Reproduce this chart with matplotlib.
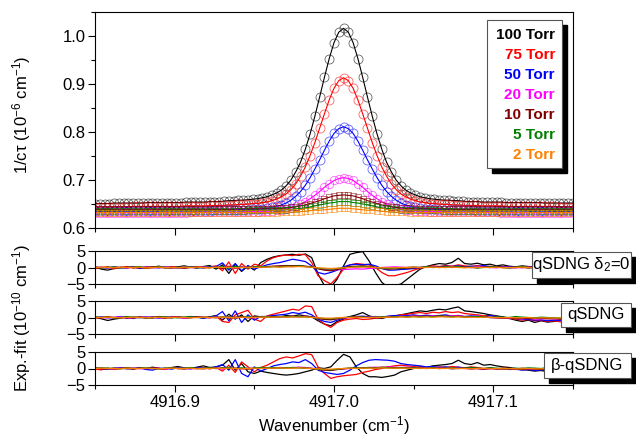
import matplotlib.pyplot as plt
from matplotlib.patches import Rectangle
from matplotlib.ticker import MultipleLocator, FormatStrFormatter

plt.rcParams["font.family"] = ["Liberation Sans", "DejaVu Sans"]
plt.rcParams["mathtext.fontset"] = "custom"
plt.rcParams["mathtext.rm"] = "Liberation Sans"
plt.rcParams["mathtext.it"] = "Liberation Sans:italic"

# wavenumber grid of the spectra (cm-1)
wavenumber = [
    4916.850, 4916.853, 4916.856, 4916.859, 4916.862, 4916.865, 4916.868, 4916.871, 4916.874, 4916.877,
    4916.880, 4916.883, 4916.886, 4916.889, 4916.892, 4916.895, 4916.898, 4916.901, 4916.904, 4916.907,
    4916.910, 4916.913, 4916.916, 4916.919, 4916.922, 4916.925, 4916.928, 4916.931, 4916.934, 4916.937,
    4916.940, 4916.943, 4916.946, 4916.949, 4916.952, 4916.955, 4916.958, 4916.961, 4916.964, 4916.967,
    4916.970, 4916.973, 4916.976, 4916.979, 4916.982, 4916.985, 4916.988, 4916.991, 4916.994, 4916.997,
    4917.000, 4917.003, 4917.006, 4917.009, 4917.012, 4917.015, 4917.018, 4917.021, 4917.024, 4917.027,
    4917.030, 4917.033, 4917.036, 4917.039, 4917.042, 4917.045, 4917.048, 4917.051, 4917.054, 4917.057,
    4917.060, 4917.063, 4917.066, 4917.069, 4917.072, 4917.075, 4917.078, 4917.081, 4917.084, 4917.087,
    4917.090, 4917.093, 4917.096, 4917.099, 4917.102, 4917.105, 4917.108, 4917.111, 4917.114, 4917.117,
    4917.120, 4917.123, 4917.126, 4917.129, 4917.132, 4917.135, 4917.138, 4917.141, 4917.144, 4917.147,
    4917.150,
]

# wavenumber grid of the residuals (cm-1)
wavenumber_res = [
    4916.850, 4916.854, 4916.858, 4916.862, 4916.866, 4916.870, 4916.874, 4916.878, 4916.882, 4916.886,
    4916.890, 4916.894, 4916.898, 4916.902, 4916.906, 4916.910, 4916.914, 4916.918, 4916.922, 4916.926,
    4916.930, 4916.934, 4916.938, 4916.942, 4916.946, 4916.950, 4916.954, 4916.958, 4916.962, 4916.966,
    4916.970, 4916.974, 4916.978, 4916.982, 4916.986, 4916.990, 4916.994, 4916.998, 4917.002, 4917.006,
    4917.010, 4917.014, 4917.018, 4917.022, 4917.026, 4917.030, 4917.034, 4917.038, 4917.042, 4917.046,
    4917.050, 4917.054, 4917.058, 4917.062, 4917.066, 4917.070, 4917.074, 4917.078, 4917.082, 4917.086,
    4917.090, 4917.094, 4917.098, 4917.102, 4917.106, 4917.110, 4917.114, 4917.118, 4917.122, 4917.126,
    4917.130, 4917.134, 4917.138, 4917.142, 4917.146, 4917.150,
]

labels = ["100 Torr", "75 Torr", "50 Torr", "20 Torr", "10 Torr", "5 Torr", "2 Torr"]
colors = ["#000000", "#ff0000", "#0000ff", "#ff00ff", "#800000", "#008000", "#ff8000"]

# 1/c tau (1e-6 cm-1)
spec_100 = [
    0.651, 0.651, 0.651, 0.651, 0.652, 0.652, 0.652, 0.652, 0.652, 0.652, 0.652, 0.653, 0.653,
    0.653, 0.653, 0.653, 0.653, 0.653, 0.653, 0.654, 0.654, 0.654, 0.654, 0.654, 0.655, 0.655,
    0.655, 0.656, 0.657, 0.657, 0.658, 0.658, 0.659, 0.660, 0.661, 0.663, 0.665, 0.669, 0.673,
    0.679, 0.688, 0.700, 0.717, 0.737, 0.764, 0.796, 0.833, 0.873, 0.914, 0.953, 0.986, 1.008,
    1.016,
    1.008, 0.986, 0.953, 0.914, 0.873, 0.833, 0.796, 0.764, 0.737, 0.717, 0.700, 0.688, 0.679,
    0.673, 0.669, 0.665, 0.663, 0.661, 0.660, 0.659, 0.658, 0.658, 0.657, 0.657, 0.656, 0.655,
    0.655, 0.655, 0.654, 0.654, 0.654, 0.654, 0.654, 0.653, 0.653, 0.653, 0.653, 0.653, 0.653,
    0.653, 0.653, 0.652, 0.652, 0.652, 0.652, 0.652, 0.652, 0.652,
]
spec_75 = [
    0.644, 0.644, 0.644, 0.644, 0.644, 0.644, 0.644, 0.644, 0.645, 0.645, 0.645, 0.645, 0.645,
    0.645, 0.645, 0.645, 0.645, 0.645, 0.645, 0.646, 0.646, 0.646, 0.646, 0.646, 0.647, 0.647,
    0.647, 0.647, 0.648, 0.648, 0.649, 0.649, 0.650, 0.651, 0.651, 0.653, 0.654, 0.657, 0.660,
    0.665, 0.671, 0.680, 0.692, 0.708, 0.727, 0.751, 0.778, 0.808, 0.838, 0.867, 0.891, 0.907,
    0.913,
    0.907, 0.891, 0.867, 0.838, 0.808, 0.778, 0.751, 0.727, 0.708, 0.692, 0.680, 0.671, 0.665,
    0.660, 0.657, 0.654, 0.653, 0.651, 0.651, 0.650, 0.649, 0.649, 0.648, 0.648, 0.647, 0.647,
    0.647, 0.647, 0.646, 0.646, 0.646, 0.646, 0.646, 0.645, 0.645, 0.645, 0.645, 0.645, 0.645,
    0.645, 0.645, 0.645, 0.645, 0.645, 0.644, 0.644, 0.644, 0.644,
]
spec_50 = [
    0.635, 0.635, 0.635, 0.635, 0.635, 0.635, 0.635, 0.635, 0.635, 0.635, 0.635, 0.635, 0.635,
    0.635, 0.636, 0.636, 0.636, 0.636, 0.636, 0.636, 0.636, 0.636, 0.636, 0.636, 0.636, 0.637,
    0.637, 0.637, 0.637, 0.637, 0.638, 0.638, 0.638, 0.639, 0.639, 0.640, 0.641, 0.643, 0.645,
    0.648, 0.652, 0.658, 0.666, 0.676, 0.689, 0.705, 0.723, 0.742, 0.762, 0.781, 0.797, 0.807,
    0.811,
    0.807, 0.797, 0.781, 0.762, 0.742, 0.723, 0.705, 0.689, 0.676, 0.666, 0.658, 0.652, 0.648,
    0.645, 0.643, 0.641, 0.640, 0.639, 0.639, 0.638, 0.638, 0.638, 0.637, 0.637, 0.637, 0.637,
    0.637, 0.636, 0.636, 0.636, 0.636, 0.636, 0.636, 0.636, 0.636, 0.636, 0.636, 0.636, 0.635,
    0.635, 0.635, 0.635, 0.635, 0.635, 0.635, 0.635, 0.635, 0.635,
]
spec_20 = [
    0.632, 0.632, 0.632, 0.632, 0.632, 0.632, 0.632, 0.632, 0.632, 0.632, 0.632, 0.632, 0.632,
    0.632, 0.632, 0.632, 0.632, 0.632, 0.632, 0.632, 0.633, 0.633, 0.633, 0.633, 0.633, 0.633,
    0.633, 0.633, 0.633, 0.633, 0.633, 0.634, 0.634, 0.634, 0.634, 0.635, 0.635, 0.636, 0.637,
    0.638, 0.640, 0.642, 0.645, 0.649, 0.655, 0.661, 0.668, 0.676, 0.685, 0.692, 0.699, 0.703,
    0.705,
    0.703, 0.699, 0.692, 0.685, 0.676, 0.668, 0.661, 0.655, 0.649, 0.645, 0.642, 0.640, 0.638,
    0.637, 0.636, 0.635, 0.635, 0.634, 0.634, 0.634, 0.634, 0.633, 0.633, 0.633, 0.633, 0.633,
    0.633, 0.633, 0.633, 0.633, 0.633, 0.633, 0.632, 0.632, 0.632, 0.632, 0.632, 0.632, 0.632,
    0.632, 0.632, 0.632, 0.632, 0.632, 0.632, 0.632, 0.632, 0.632,
]
spec_10 = [
    0.639, 0.639, 0.639, 0.639, 0.639, 0.639, 0.639, 0.639, 0.639, 0.639, 0.639, 0.639, 0.639,
    0.639, 0.639, 0.639, 0.639, 0.639, 0.639, 0.639, 0.639, 0.639, 0.639, 0.639, 0.639, 0.639,
    0.639, 0.639, 0.639, 0.639, 0.640, 0.640, 0.640, 0.640, 0.640, 0.640, 0.640, 0.640, 0.641,
    0.641, 0.642, 0.643, 0.644, 0.646, 0.648, 0.651, 0.654, 0.657, 0.661, 0.664, 0.667, 0.668,
    0.669,
    0.668, 0.667, 0.664, 0.661, 0.657, 0.654, 0.651, 0.648, 0.646, 0.644, 0.643, 0.642, 0.641,
    0.641, 0.640, 0.640, 0.640, 0.640, 0.640, 0.640, 0.640, 0.640, 0.639, 0.639, 0.639, 0.639,
    0.639, 0.639, 0.639, 0.639, 0.639, 0.639, 0.639, 0.639, 0.639, 0.639, 0.639, 0.639, 0.639,
    0.639, 0.639, 0.639, 0.639, 0.639, 0.639, 0.639, 0.639, 0.639,
]
spec_5 = [
    0.636, 0.636, 0.636, 0.636, 0.636, 0.636, 0.636, 0.636, 0.636, 0.636, 0.636, 0.636, 0.636,
    0.636, 0.636, 0.636, 0.636, 0.636, 0.636, 0.636, 0.636, 0.636, 0.636, 0.636, 0.636, 0.636,
    0.636, 0.636, 0.636, 0.636, 0.636, 0.636, 0.637, 0.637, 0.637, 0.637, 0.637, 0.637, 0.637,
    0.638, 0.638, 0.639, 0.640, 0.641, 0.642, 0.644, 0.646, 0.648, 0.650, 0.652, 0.653, 0.655,
    0.655,
    0.655, 0.653, 0.652, 0.650, 0.648, 0.646, 0.644, 0.642, 0.641, 0.640, 0.639, 0.638, 0.638,
    0.637, 0.637, 0.637, 0.637, 0.637, 0.637, 0.637, 0.636, 0.636, 0.636, 0.636, 0.636, 0.636,
    0.636, 0.636, 0.636, 0.636, 0.636, 0.636, 0.636, 0.636, 0.636, 0.636, 0.636, 0.636, 0.636,
    0.636, 0.636, 0.636, 0.636, 0.636, 0.636, 0.636, 0.636, 0.636,
]
spec_2 = [
    0.632, 0.632, 0.632, 0.632, 0.632, 0.632, 0.632, 0.632, 0.632, 0.632, 0.632, 0.632, 0.632,
    0.632, 0.632, 0.632, 0.632, 0.632, 0.632, 0.632, 0.632, 0.632, 0.632, 0.632, 0.632, 0.632,
    0.632, 0.632, 0.632, 0.632, 0.632, 0.632, 0.632, 0.632, 0.632, 0.632, 0.632, 0.632, 0.632,
    0.633, 0.633, 0.633, 0.634, 0.634, 0.635, 0.636, 0.637, 0.637, 0.638, 0.639, 0.640, 0.641,
    0.641,
    0.641, 0.640, 0.639, 0.638, 0.637, 0.637, 0.636, 0.635, 0.634, 0.634, 0.633, 0.633, 0.633,
    0.632, 0.632, 0.632, 0.632, 0.632, 0.632, 0.632, 0.632, 0.632, 0.632, 0.632, 0.632, 0.632,
    0.632, 0.632, 0.632, 0.632, 0.632, 0.632, 0.632, 0.632, 0.632, 0.632, 0.632, 0.632, 0.632,
    0.632, 0.632, 0.632, 0.632, 0.632, 0.632, 0.632, 0.632, 0.632,
]

# residuals exp.-fit (1e-10 cm-1), panel 1: qSDNG delta2=0
res1_100 = [0.2, -0.5, -0.8, -0.3, 0.1, -0.2, 0.3, 0.0, -0.2, 0.1, 0.4, 0.0, -0.1, 0.2, 0.5, 0.1, -0.2, 0.3, 0.6,
            -0.5, 0.8, -1.8, 1.0, -1.2, 0.5, -0.8, 1.5,
            2.5, 3.2, 3.6, 3.8, 4.0, 3.7, 4.1, 3.0,
            -2.0, -5.5, -6.0, -3.5,
            0.5, 4.0, 4.5, 4.8,
            2.0, -1.5, -4.5, -6.0, -5.5, -5.0,
            -3.5, -2.0, -0.5, 0.3,
            0.8, 1.2, 1.0, 1.5, 2.8, 1.2, 1.0, 1.3, 0.8, 1.0, 0.5, 0.8, 0.4, 0.2, 0.5, 0.3, 0.1, 0.4, 0.2, 0.3, 0.0, 0.2, 0.1]
res1_75 = [-0.3, -0.1, 0.2, -0.4, 0.0, 0.3, -0.2, 0.1, -0.3, 0.0, 0.2, -0.1, 0.3, 0.0, -0.2, 0.1, 0.3, -0.1, 0.2,
           0.5, -1.0, 1.7, -1.8, 1.2, -0.5, 1.0, 0.5,
           2.0, 3.0, 3.5, 3.8, 3.6, 4.0, 3.9, 1.5,
           -2.5, -4.0, -5.0, -3.0,
           -0.5, 0.8, 1.2, 1.0,
           0.8, 0.0, -1.5, -2.5, -2.5, -2.0,
           -1.5, -0.8, -0.2, 0.2,
           0.5, 0.3, 0.6, 0.4, 0.8, 0.5, 0.3, 0.6, 0.2, 0.4, 0.1, 0.3, 0.0, 0.2, -0.1, 0.1, 0.0, -0.2, 0.1, -0.1, 0.0, 0.2, 0.0]
res1_50 = [0.1, 0.0, -0.2, 0.2, -0.1, 0.0, 0.2, -0.3, 0.1, 0.0, -0.1, 0.2, 0.0, -0.2, 0.1, 0.3, 0.0, -0.1, 0.2,
           0.3, 1.4, -0.8, 1.2, -1.0, 0.6, -0.5, 0.2,
           0.8, 1.2, 1.5, 2.0, 2.5, 2.2, 1.8, 0.5,
           -1.5, -2.0, -1.5, -0.8,
           0.2, 0.8, 1.0, 0.8,
           1.0, 0.5, -0.3, -0.8, -0.8, -0.6,
           -0.5, -0.3, 0.0, 0.2,
           0.3, 0.2, 0.4, 0.3, 0.5, 0.2, 0.4, 0.3, 0.6, 0.2, 0.3, 0.1, 0.2, 0.0, 0.1, -0.1, 0.2, 0.0, -0.2, -0.1, 0.0, -0.2, -0.1]
res1_20 = [0.0, 0.1, -0.1, 0.2, 0.0, -0.2, 0.1, 0.0, 0.2, -0.1, 0.0, 0.1, -0.2, 0.0, 0.1, 0.0, -0.1, 0.2, 0.0,
           0.3, -0.2, 0.4, -0.3, 0.2, -0.1, 0.3, 0.0,
           0.2, 0.3, 0.4, 0.3, 0.5, 0.4, 0.3, 0.1,
           -0.3, -0.6, -0.8, -0.7,
           -0.6, -0.5, -0.4, -0.5,
           -0.3, -0.2, 0.0, 0.1, 0.2, 0.1,
           0.0, 0.1, 0.0, 0.1,
           0.2, 0.1, 0.0, 0.2, 0.3, 0.1, 0.0, 0.2, 0.1, 0.0, -0.1, 0.1, 0.0, -0.1, 0.0, 0.1, -0.1, 0.0, 0.1, 0.0, -0.1, 0.0, 0.1]
res1_10 = [-0.1, 0.0, 0.1, -0.2, 0.0, 0.1, 0.0, -0.1, 0.1, 0.2, 0.0, -0.1, 0.0, 0.1, -0.2, 0.0, 0.1, 0.0, -0.1,
           0.2, -0.3, 0.3, -0.2, 0.1, 0.0, 0.2, 0.1,
           0.3, 0.4, 0.5, 0.6, 0.5, 0.6, 0.4, 0.2,
           -0.4, -0.8, -1.0, -0.6,
           -0.2, 0.3, 0.4, 0.5,
           0.3, 0.0, -0.3, -0.5, -0.4, -0.3,
           -0.2, -0.1, 0.0, 0.1,
           0.0, 0.1, 0.2, 0.0, 0.3, 0.1, 0.0, -0.1, 0.1, 0.0, 0.2, 0.0, -0.1, 0.0, 0.1, -0.1, 0.0, 0.0, 0.1, -0.1, 0.0, 0.1, 0.0]
res1_5 = [0.1, -0.1, 0.0, 0.2, -0.1, 0.0, 0.1, 0.3, -0.1, 0.0, 0.2, 0.0, -0.1, 0.1, 0.0, 0.2, -0.1, 0.0, 0.1,
          0.0, 0.2, -0.2, 0.3, 0.0, -0.1, 0.2, 0.3,
          0.2, 0.3, 0.2, 0.4, 0.3, 0.5, 0.3, 0.1,
          -0.2, -0.4, -0.5, -0.3,
          -0.1, 0.1, 0.2, 0.3,
          0.2, 0.0, -0.2, -0.3, -0.2, -0.1,
          0.0, 0.1, 0.0, 0.2,
          0.1, 0.0, 0.2, 0.1, 0.3, 0.0, 0.1, -0.1, 0.0, 0.2, 0.1, 0.0, -0.1, 0.1, 0.3, 0.0, -0.1, 0.1, 0.0, 0.2, 0.1, -0.1, 0.0]
res1_2 = [0.0, 0.1, 0.0, -0.1, 0.1, 0.0, 0.0, 0.1, -0.1, 0.0, 0.1, 0.0, 0.0, -0.1, 0.1, 0.0, 0.1, 0.0, -0.1,
          0.1, 0.0, 0.1, -0.1, 0.0, 0.1, 0.0, 0.1,
          0.1, 0.2, 0.1, 0.2, 0.2, 0.3, 0.2, 0.1,
          -0.1, -0.2, -0.3, -0.2,
          -0.1, 0.0, 0.1, 0.1,
          0.1, 0.0, -0.1, -0.1, -0.1, 0.0,
          0.0, 0.1, 0.0, 0.0,
          0.1, 0.0, 0.0, 0.1, 0.0, -0.1, 0.0, 0.1, 0.0, 0.0, 0.1, -0.1, 0.0, 0.0, 0.1, 0.0, -0.1, 0.0, 0.1, 0.0, 0.0, -0.1, 0.0]

# panel 2: qSDNG
res2_100 = [0.1, -0.4, -0.9, -0.5, -0.2, 0.1, -0.3, 0.2, 0.0, -0.2, 0.3, 0.1, -0.1, 0.2, 0.0, 0.3, 0.1, -0.2, 0.2,
            0.6, -0.8, 1.0, -0.5, 0.8, -1.2, 0.5, 0.2,
            0.3, 0.5, 0.2, 0.6, 0.4, 0.8, 0.5, 0.2,
            -1.0, -2.0, -2.5, -1.2,
            -0.5, 0.3, 0.8, 1.5,
            0.5, 0.0, -0.3, 0.2, 0.5, 0.8,
            1.2, 1.6, 2.0, 1.8,
            2.2, 2.5, 2.3, 2.8, 3.2, 2.0, 1.8, 1.5, 1.2, 0.8, 0.5, 0.2, -0.3, -0.8, -1.2, -0.8, -1.5, -1.0, -1.4, -1.2, -0.8, -1.5, -1.2]
res2_75 = [-0.2, 0.0, 0.3, -0.1, 0.2, -0.3, 0.0, 0.1, -0.2, 0.2, 0.0, -0.1, 0.3, 0.1, -0.2, 0.0, 0.2, 0.1, -0.1,
           0.4, -1.2, -1.5, 0.8, 1.5, 2.2, -0.5, -1.2,
           0.5, 1.0, 1.5, 2.0, 2.5, 2.2, 3.5, 3.3,
           -0.5, -2.0, -3.0, -1.5,
           -0.8, -0.5, -0.3, -0.6,
           -0.5, -0.2, 0.0, 0.3, 0.5, 0.8,
           1.0, 1.3, 1.5, 1.2,
           1.6, 1.4, 1.8, 1.5, 1.7, 1.2, 1.0, 0.8, 0.5, 0.6, 0.3, 0.0, -0.2, -0.5, -0.8, -0.6, -1.0, -0.9, -1.2, -1.0, -1.3, -1.4, -1.2]
res2_50 = [0.0, 0.2, -0.1, 0.0, 0.3, -0.2, 0.1, -0.1, 0.2, 0.0, -0.2, 0.1, 0.0, 0.2, -0.1, 0.0, 0.1, -0.2, 0.1,
           0.5, 1.8, -1.0, 2.0, -1.5, 0.8, -0.8, 0.3,
           0.3, 0.6, 0.8, 1.0, 1.5, 1.2, 1.6, 0.8,
           -0.5, -1.2, -1.5, -0.8,
           -0.2, 0.2, 0.3, 0.4,
           0.2, 0.3, 0.1, 0.4, 0.6, 0.5,
           0.6, 0.8, 0.5, 0.7,
           0.5, 0.6, 0.8, 0.4, 0.6, 0.3, 0.5, 0.4, 0.2, 0.6, 0.3, 0.0, -0.2, -0.3, -0.5, -0.6, -0.8, -0.7, -1.0, -0.8, -0.9, -1.0, -0.8]
res2_20 = [0.1, 0.0, -0.1, 0.0, 0.2, 0.0, -0.1, 0.1, 0.0, 0.2, -0.1, 0.0, 0.1, 0.0, -0.2, 0.1, 0.0, 0.1, -0.1,
           0.2, -0.1, 0.3, -0.2, 0.1, 0.0, -0.1, 0.1,
           0.2, 0.1, 0.3, 0.2, 0.3, 0.2, 0.4, 0.2,
           -0.2, -0.5, -0.6, -0.4,
           -0.2, 0.0, 0.1, 0.0,
           0.1, 0.0, 0.2, 0.3, 0.2, 0.4,
           0.3, 0.5, 0.4, 0.3,
           0.5, 0.4, 0.3, 0.5, 0.6, 0.3, 0.2, 0.4, 0.1, 0.0, -0.1, -0.2, -0.3, -0.2, -0.4, -0.3, -0.5, -0.4, -0.3, -0.5, -0.4, -0.6, -0.5]
res2_10 = [0.0, -0.1, 0.1, 0.0, -0.1, 0.2, 0.0, 0.1, -0.1, 0.0, 0.1, -0.2, 0.0, 0.1, 0.0, -0.1, 0.2, 0.0, 0.1,
           -0.1, 0.2, -0.2, 0.1, 0.3, -0.1, 0.0, 0.2,
           0.1, 0.2, 0.3, 0.2, 0.4, 0.3, 0.3, 0.1,
           -0.3, -0.6, -0.7, -0.4,
           -0.1, 0.1, 0.2, 0.1,
           0.0, -0.1, 0.0, 0.1, 0.2, 0.3,
           0.2, 0.4, 0.3, 0.4,
           0.3, 0.5, 0.4, 0.3, 0.4, 0.2, 0.3, 0.1, 0.2, 0.0, -0.1, -0.2, -0.1, -0.3, -0.2, -0.4, -0.3, -0.2, -0.4, -0.3, -0.5, -0.3, -0.4]
res2_5 = [0.2, 0.0, 0.1, -0.1, 0.0, 0.2, 0.1, 0.0, -0.1, 0.1, 0.0, 0.2, 0.0, -0.1, 0.1, 0.2, 0.0, 0.1, 0.0,
          0.1, 0.0, 0.2, -0.1, 0.1, 0.2, 0.0, 0.1,
          0.2, 0.1, 0.2, 0.3, 0.2, 0.3, 0.2, 0.1,
          -0.1, -0.3, -0.4, -0.2,
          0.0, 0.1, 0.0, 0.1,
          0.0, 0.1, 0.2, 0.1, 0.2, 0.3,
          0.2, 0.3, 0.2, 0.3,
          0.2, 0.4, 0.3, 0.2, 0.3, 0.1, 0.2, 0.3, 0.1, 0.0, 0.2, 0.1, 0.0, 0.3, 0.1, 0.0, -0.1, 0.1, 0.0, -0.1, -0.2, 0.0, -0.1]
res2_2 = [0.0, 0.0, 0.1, 0.0, -0.1, 0.0, 0.1, 0.0, 0.0, -0.1, 0.1, 0.0, 0.0, 0.1, 0.0, -0.1, 0.0, 0.1, 0.0,
          0.0, 0.1, 0.0, -0.1, 0.1, 0.0, 0.0, 0.1,
          0.1, 0.1, 0.2, 0.1, 0.2, 0.1, 0.2, 0.0,
          -0.1, -0.2, -0.2, -0.1,
          0.0, 0.0, 0.1, 0.0,
          0.0, 0.1, 0.0, 0.1, 0.1, 0.2,
          0.1, 0.2, 0.1, 0.2,
          0.1, 0.2, 0.2, 0.1, 0.2, 0.1, 0.1, 0.0, 0.1, 0.0, 0.0, -0.1, 0.0, -0.1, -0.1, 0.0, -0.2, -0.1, -0.1, -0.2, -0.1, -0.2, -0.1]

# panel 3: beta-qSDNG
res3_100 = [0.2, -0.3, 0.0, -0.2, 0.1, 0.3, -0.1, 0.2, 0.0, 0.4, 0.1, -0.2, 0.3, 0.6, 0.2, 0.0, 0.4, 0.8, 0.3,
            0.5, 1.0, 2.7, -0.5, 1.5, -1.0, -1.5, -0.8,
            -1.2, -1.5, -1.8, -2.0, -1.8, -1.5, -1.0, -0.5,
            0.2, 0.0, 0.5, 2.5,
            4.3, 3.5, 0.5, -1.5,
            -2.5, -2.5, -2.7, -2.4, -2.0, -1.0,
            -0.5, 0.0, 0.5, 0.3,
            0.8, 1.0, 1.2, 1.5, 2.5, 1.5, 1.2, 1.8, 1.0, 1.2, 0.8, 0.5, 0.3, 0.0, -0.3, -0.5, -0.8, -0.6, -1.0, -0.8, -1.2, -1.0, -0.8]
res3_75 = [-0.2, -0.4, 0.1, -0.3, 0.0, 0.2, -0.1, 0.3, -0.2, 0.0, 0.1, -0.3, 0.2, 0.0, -0.1, 0.2, 0.0, 0.3, -0.1,
           0.3, -0.8, 1.0, -1.2, 2.0, 0.5, -1.0, 0.3,
           1.0, 2.0, 3.0, 3.5, 3.2, 3.8, 4.5, 4.2,
           0.5, -1.5, -3.0, -2.5,
           -2.2, -2.0, -1.8, -1.2,
           -0.8, -0.3, 0.0, 0.5, 0.8, 1.0,
           0.8, 0.6, 0.4, 0.3,
           0.2, 0.5, 0.3, 0.6, 0.4, 0.2, 0.5, 0.3, 0.0, 0.2, -0.1, 0.1, 0.0, -0.2, 0.1, -0.1, 0.0, -0.3, -0.2, -0.5, -0.3, -0.4, -0.2]
res3_50 = [0.1, 0.0, -0.2, 0.1, 0.2, -0.1, 0.0, 0.2, -0.3, -0.5, 0.0, 0.1, -0.2, 0.2, 0.0, -0.1, 0.3, 0.1, 0.0,
           0.5, 1.2, -0.5, 2.7, -1.5, -2.5, 0.5, -0.8,
           0.0, 0.8, 1.2, 1.5, 2.0, 1.8, 2.7, 1.5,
           -0.5, -1.2, -1.5, -1.8,
           -1.5, -0.5, 0.8, 1.8,
           2.5, 2.7, 2.6, 2.5, 2.2, 1.5,
           1.2, 1.0, 0.8, 0.5,
           0.6, 0.3, 0.5, 0.2, 0.4, 0.1, 0.3, 0.0, -0.2, 0.1, -0.1, 0.0, -0.3, -0.2, -0.5, -0.3, -0.6, -0.4, -0.8, -0.6, -0.5, -0.7, -0.6]
res3_20 = [0.0, 0.1, 0.0, -0.1, 0.1, 0.0, 0.2, -0.1, 0.0, 0.1, 0.0, -0.2, 0.1, 0.0, 0.1, -0.1, 0.0, 0.2, 0.0,
           0.1, -0.2, 0.2, 0.0, -0.1, 0.1, 0.0, 0.2,
           0.1, 0.2, 0.3, 0.2, 0.3, 0.4, 0.3, 0.1,
           -0.2, -0.4, -0.5, -0.3,
           -0.1, 0.0, 0.1, 0.2,
           0.3, 0.4, 0.3, 0.5, 0.4, 0.3,
           0.4, 0.3, 0.2, 0.3,
           0.2, 0.1, 0.2, 0.0, 0.1, 0.0, -0.1, 0.0, -0.2, -0.1, 0.0, -0.2, -0.1, -0.3, -0.2, -0.1, -0.3, -0.2, -0.4, -0.2, -0.3, -0.2, -0.3]
res3_10 = [0.1, 0.0, -0.1, 0.1, 0.0, 0.0, -0.2, 0.1, 0.0, 0.1, -0.1, 0.0, 0.2, 0.0, -0.1, 0.1, 0.0, -0.1, 0.1,
           0.0, 0.2, -0.1, 0.1, 0.0, -0.2, 0.1, 0.0,
           0.2, 0.1, 0.3, 0.2, 0.2, 0.3, 0.1, 0.0,
           -0.3, -0.5, -0.6, -0.3,
           -0.1, 0.1, 0.0, 0.2,
           0.3, 0.2, 0.4, 0.3, 0.2, 0.3,
           0.2, 0.1, 0.2, 0.0,
           0.1, 0.0, 0.1, -0.1, 0.0, 0.1, -0.1, 0.0, -0.2, 0.0, -0.1, -0.2, -0.1, -0.2, -0.3, -0.1, -0.2, -0.3, -0.2, -0.3, -0.2, -0.4, -0.2]
res3_5 = [0.0, 0.2, 0.1, 0.0, -0.1, 0.2, 0.0, 0.1, 0.2, 0.0, -0.1, 0.1, 0.2, 0.0, 0.1, 0.3, 0.0, 0.1, 0.2,
          0.0, 0.1, 0.3, -0.1, 0.2, 0.0, 0.1, 0.3,
          0.2, 0.3, 0.1, 0.2, 0.3, 0.2, 0.1, 0.0,
          -0.2, -0.3, -0.4, -0.2,
          0.0, 0.1, 0.2, 0.1,
          0.2, 0.1, 0.3, 0.2, 0.1, 0.2,
          0.1, 0.2, 0.0, 0.1,
          0.2, 0.0, 0.1, 0.2, 0.0, 0.1, 0.3, 0.1, 0.0, 0.2, 0.1, 0.0, -0.1, 0.1, 0.0, 0.2, 0.1, 0.0, 0.3, 0.1, 0.2, 0.4, 0.2]
res3_2 = [0.0, 0.1, 0.0, 0.0, -0.1, 0.1, 0.0, 0.0, 0.1, 0.0, -0.1, 0.0, 0.1, 0.0, 0.0, 0.1, -0.1, 0.0, 0.0,
          0.1, 0.0, 0.1, 0.0, -0.1, 0.0, 0.1, 0.0,
          0.1, 0.1, 0.2, 0.1, 0.1, 0.2, 0.1, 0.0,
          -0.1, -0.2, -0.2, -0.1,
          0.0, 0.1, 0.0, 0.1,
          0.1, 0.1, 0.2, 0.1, 0.1, 0.1,
          0.1, 0.0, 0.1, 0.0,
          0.1, 0.0, 0.0, 0.1, 0.0, 0.0, -0.1, 0.0, 0.0, -0.1, 0.0, -0.1, 0.0, -0.1, -0.1, 0.0, -0.1, -0.1, 0.0, -0.1, -0.1, -0.2, -0.1]

W, H = 636, 437


def px_box(x0, y0, x1, y1):
    # pixel box (top-left origin) -> figure fraction rect
    return [x0 / W, 1 - y1 / H, (x1 - x0) / W, (y1 - y0) / H]


def shadow_box(fig, x0, y0, x1, y1, off=5):
    fig.add_artist(Rectangle((x0 / W + off / W, 1 - y1 / H - off / H), (x1 - x0) / W, (y1 - y0) / H,
                             transform=fig.transFigure, facecolor="black", edgecolor="black", zorder=5))
    fig.add_artist(Rectangle((x0 / W, 1 - y1 / H), (x1 - x0) / W, (y1 - y0) / H,
                             transform=fig.transFigure, facecolor="white", edgecolor="#555555",
                             linewidth=0.8, zorder=6))


def style_axis(ax, show_labels):
    ax.set_xlim(4916.85, 4917.15)
    ax.xaxis.set_major_locator(MultipleLocator(0.1))
    ax.xaxis.set_minor_locator(MultipleLocator(0.05))
    ax.xaxis.set_major_formatter(FormatStrFormatter("%.1f"))
    ax.tick_params(which="major", direction="out", length=5, width=0.8, labelsize=12,
                   top=False, right=False, pad=2)
    ax.tick_params(which="minor", direction="out", length=3, width=0.8, top=False, right=False)
    if not show_labels:
        ax.tick_params(labelbottom=False)
    for s in ax.spines.values():
        s.set_linewidth(0.8)


fig = plt.figure(figsize=(6.36, 4.37), dpi=100)

ax = fig.add_axes(px_box(95, 12, 573, 228))
spectra = [spec_100, spec_75, spec_50, spec_20, spec_10, spec_5, spec_2]
markers = ["o", "o", "o", "o", "s", "s", "s"]
sizes = [6.5, 6.5, 6.5, 6.0, 4.5, 4.5, 4.5]
for y, c, m, ms in zip(spectra, colors, markers, sizes):
    ax.plot(wavenumber, y, "-", color=c, lw=0.8)
    ax.plot(wavenumber, y, m, color=c, mfc="none", mec=c, ms=ms, mew=0.6, alpha=0.6)
ax.set_ylim(0.6, 1.05)
ax.yaxis.set_major_locator(MultipleLocator(0.1))
ax.yaxis.set_minor_locator(MultipleLocator(0.05))
ax.yaxis.set_major_formatter(FormatStrFormatter("%.1f"))
style_axis(ax, False)

panels = [
    [res1_100, res1_75, res1_50, res1_20, res1_10, res1_5, res1_2],
    [res2_100, res2_75, res2_50, res2_20, res2_10, res2_5, res2_2],
    [res3_100, res3_75, res3_50, res3_20, res3_10, res3_5, res3_2],
]
rows = [(251, 284), (301, 334), (352, 385)]
for i, (res, (top, bottom)) in enumerate(zip(panels, rows)):
    axr = fig.add_axes(px_box(95, top, 573, bottom))
    for y, c in zip(res, colors):
        axr.plot(wavenumber_res, y, "-", color=c, lw=0.9)
    axr.set_ylim(-5, 5)
    axr.set_yticks([-5, 0, 5])
    style_axis(axr, i == 2)

# labels
fig.text(22 / W, 1 - 115 / H, "1/c\u03c4 (10$^{-6}$ cm$^{-1}$)", rotation=90,
         ha="center", va="center", fontsize=12)
fig.text(22 / W, 1 - 318 / H, "Exp.-fit (10$^{-10}$ cm$^{-1}$)", rotation=90,
         ha="center", va="center", fontsize=12)
fig.text(334 / W, 1 - 426 / H, "Wavenumber (cm$^{-1}$)", ha="center", va="center", fontsize=12)

# legend box
shadow_box(fig, 487, 20, 562, 168)
for j, (lab, c) in enumerate(zip(labels, colors)):
    fig.text(555 / W, 1 - (35 + 20 * j) / H, lab, color=c, fontsize=11, fontweight="bold",
             ha="right", va="center", zorder=7)

# model boxes
model_boxes = [
    ("qSDNG \u03b4$_2$=0", 532, 252, 631, 278),
    ("qSDNG", 561, 303, 631, 327),
    ("\u03b2-qSDNG", 544, 353, 631, 378),
]
for text, x0, y0, x1, y1 in model_boxes:
    shadow_box(fig, x0, y0, x1, y1)
    fig.text((x0 + x1) / 2 / W, 1 - (y0 + y1) / 2 / H, text, fontsize=12,
             ha="center", va="center", zorder=7)

fig.savefig("out.png", dpi=100)
